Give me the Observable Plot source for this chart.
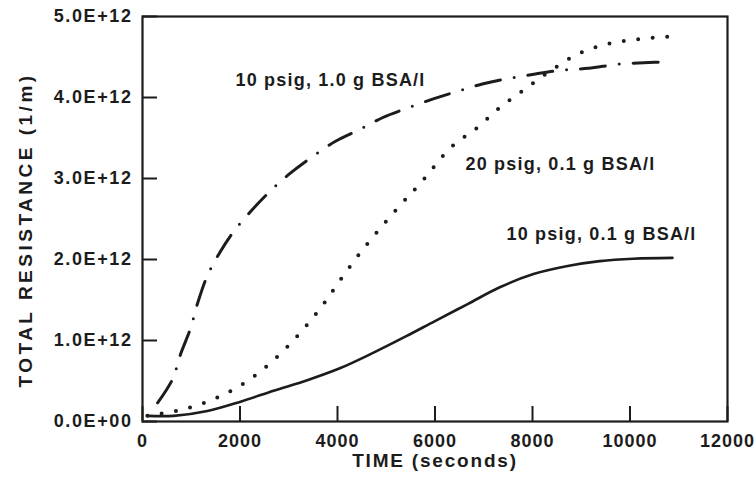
<!DOCTYPE html>
<html><head><meta charset="utf-8">
<script src="https://cdn.jsdelivr.net/npm/d3@7"></script>
<script src="https://cdn.jsdelivr.net/npm/@observablehq/plot@0.6"></script>
<style>html,body{margin:0;padding:0;background:#fff}svg{display:block}</style>
</head><body><div id="chart"></div>
<script>
// Axis ticks
const xTicks = [0, 2000, 4000, 6000, 8000, 10000, 12000];
const yTicks = [0, 1e12, 2e12, 3e12, 4e12, 5e12];

// 10 psig, 0.1 g BSA/l (solid)
const solidT = [100, 640, 1330, 2010, 2690, 3380, 4060, 4740, 5400, 6000, 6670, 7340, 8020, 8720, 9380, 10070, 10870];
const solidY = [0.07, 0.07, 0.13, 0.245, 0.38, 0.51, 0.66, 0.85, 1.05, 1.24, 1.45, 1.66, 1.82, 1.92, 1.98, 2.01, 2.02];

// 20 psig, 0.1 g BSA/l (dotted)
const dotT = [100, 680, 1270, 1850, 2380, 2870, 3300, 3690, 4060, 4450, 4840, 5270, 5700, 6320, 6850, 7340, 7840, 8370, 8940, 9540, 10170, 10790];
const dotY = [0.07, 0.13, 0.23, 0.39, 0.60, 0.86, 1.14, 1.43, 1.75, 2.07, 2.36, 2.66, 2.94, 3.38, 3.62, 3.88, 4.10, 4.33, 4.54, 4.66, 4.72, 4.75];

// 10 psig, 1.0 g BSA/l (dash-dot)
const ddT = [310, 615, 780, 985, 1130, 1330, 1580, 1890, 2260, 2630, 3040, 3510, 3960, 4470, 4920, 5440, 5950, 6480, 6990, 7550, 8060, 8640, 9150, 9740, 10280, 10830];
const ddY = [0.23, 0.52, 0.83, 1.15, 1.46, 1.80, 2.08, 2.36, 2.62, 2.85, 3.07, 3.28, 3.46, 3.61, 3.75, 3.87, 3.98, 4.08, 4.17, 4.24, 4.29, 4.34, 4.36, 4.41, 4.43, 4.44];

// Curve labels
const labelText = ["10 psig, 1.0 g BSA/l", "20 psig, 0.1 g BSA/l", "10 psig, 0.1 g BSA/l"];
const labelT = [1907, 6625, 7466];
const labelY = [4.21, 3.18, 2.31];

const xTitle = "TIME (seconds)";
const yTitle = "TOTAL RESISTANCE (1/m)";

const E = 1e12;
const toRows = (T, Y) => T.map((t, i) => ({t, r: Y[i] * E}));
const solid = toRows(solidT, solidY);
const dotted = toRows(dotT, dotY);
const dashdot = toRows(ddT, ddY);
const labels = labelText.map((s, i) => ({s, t: labelT[i], r: labelY[i] * E}));

const ink = "#1c1c1c";
const yFmt = d => d === 0 ? "0.0E+00" : (d / E).toFixed(1) + "E+12";

const chart = Plot.plot({
  width: 756, height: 487,
  marginLeft: 142, marginRight: 29, marginTop: 16, marginBottom: 66,
  x: {domain: [0, 12000]},
  y: {domain: [0, 5e12]},
  style: {fontFamily: "'Liberation Sans', Arial, sans-serif", fontWeight: "bold", color: ink, background: "#fff"},
  marks: [
    Plot.frame({stroke: ink, strokeWidth: 2.2}),
    // inward ticks: outward axis ticks shifted back inside the frame
    Plot.axisX({ticks: xTicks, tickSize: 15, dy: -15, tickFormat: () => "", stroke: ink, strokeWidth: 2, label: null}),
    Plot.axisY({ticks: yTicks, tickSize: 15, dx: 15, tickFormat: () => "", stroke: ink, strokeWidth: 2, label: null}),
    Plot.axisX({ticks: xTicks, tickSize: 0, tickPadding: 13, fontSize: 18, tickFormat: d => String(d), label: null}),
    Plot.axisY({ticks: yTicks, tickSize: 0, tickPadding: 10, fontSize: 18, tickFormat: yFmt, label: null}),
    Plot.line(solid, {x: "t", y: "r", curve: "catmull-rom", stroke: ink, strokeWidth: 2.6}),
    Plot.line(dotted, {x: "t", y: "r", curve: "catmull-rom", stroke: ink, strokeWidth: 4, strokeLinecap: "round", strokeDasharray: "0 14.5"}),
    Plot.line(dashdot, {x: "t", y: "r", curve: "catmull-rom", stroke: ink, strokeWidth: 3, strokeLinecap: "round", strokeDasharray: "25 14 0 14"}),
    Plot.text(labels, {x: "t", y: "r", text: "s", textAnchor: "start", fontSize: 18, fill: ink}),
    Plot.text([xTitle], {frameAnchor: "bottom", dy: 45, fontSize: 19, fill: ink}),
    Plot.text([yTitle], {frameAnchor: "left", textAnchor: "middle", rotate: -90, dx: -117, dy: 11, fontSize: 19, fill: ink})
  ]
});
document.getElementById("chart").append(chart);
const svg = d3.select(chart);
svg.selectAll('g[aria-label="x-axis tick label"] text').attr("letter-spacing", "1px");
svg.selectAll('g[aria-label="y-axis tick label"] text').attr("letter-spacing", "1.6px");
svg.selectAll('g[aria-label="text"] text').each(function() {
  const t = this.textContent;
  const sp = t === yTitle ? "3.5px" : t === xTitle ? "1.8px" : "1.2px";
  d3.select(this).attr("letter-spacing", sp);
});
</script>
</body></html>
